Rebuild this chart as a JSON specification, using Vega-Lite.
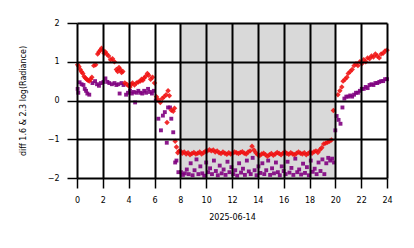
{
  "$schema": "https://vega.github.io/schema/vega-lite/v6.json",
  "width": 310,
  "height": 155,
  "autosize": "none",
  "padding": {"left": 77, "top": 23, "right": 27, "bottom": 70},
  "background": "white",
  "config": {
    "view": {"stroke": null},
    "font": "DejaVu Sans",
    "axis": {
      "labelFont": "DejaVu Sans", "titleFont": "DejaVu Sans",
      "labelFontSize": 8, "titleFontSize": 8, "titleFontWeight": "normal",
      "labelColor": "black", "titleColor": "black",
      "grid": true, "gridColor": "black", "gridWidth": 2, "gridOpacity": 1,
      "domain": false, "tickColor": "black", "tickWidth": 1.5, "tickSize": 10,
      "labelOverlap": false, "labelFlush": false
    }
  },
  "datasets": {
    "band": [{"t": 8, "b": 20}],
    "red": [
      {"t":0.05,"v":0.92},{"t":0.15,"v":0.88},{"t":0.25,"v":0.8},{"t":0.35,"v":0.74},{"t":0.45,"v":0.7},{"t":0.55,"v":0.62},{"t":0.65,"v":0.58},{"t":0.75,"v":0.55},{"t":0.85,"v":0.52},{"t":0.95,"v":0.5},{"t":1.05,"v":0.55},{"t":1.15,"v":0.6},{"t":1.3,"v":0.9},{"t":1.45,"v":0.92},{"t":1.6,"v":1.2},{"t":1.7,"v":1.25},{"t":1.8,"v":1.3},{"t":1.9,"v":1.35},{"t":2.0,"v":1.3},{"t":2.1,"v":1.22},{"t":2.2,"v":1.25},{"t":2.3,"v":1.2},{"t":2.45,"v":1.15},{"t":2.6,"v":1.05},{"t":2.75,"v":1.08},{"t":2.9,"v":1.0},{"t":3.05,"v":0.8},{"t":3.15,"v":0.75},{"t":3.25,"v":0.85},{"t":3.35,"v":0.8},{"t":3.45,"v":0.72},{"t":3.55,"v":0.75},{"t":3.7,"v":0.45},{"t":3.85,"v":0.42},{"t":4.0,"v":0.38},{"t":4.1,"v":0.35},{"t":4.2,"v":0.42},{"t":4.3,"v":0.45},{"t":4.45,"v":0.4},{"t":4.6,"v":0.45},{"t":4.75,"v":0.48},{"t":4.9,"v":0.5},{"t":5.0,"v":0.55},{"t":5.1,"v":0.52},{"t":5.2,"v":0.58},{"t":5.3,"v":0.62},{"t":5.45,"v":0.7},{"t":5.55,"v":0.65},{"t":5.7,"v":0.55},{"t":5.85,"v":0.6},{"t":6.0,"v":0.45},{"t":6.15,"v":0.1},{"t":6.3,"v":0.02},{"t":6.45,"v":-0.05},{"t":6.6,"v":0.05},{"t":6.75,"v":0.1},{"t":6.9,"v":0.15},{"t":6.97,"v":-0.57},{"t":7.05,"v":0.25},{"t":7.15,"v":0.12},{"t":7.3,"v":-0.25},{"t":7.45,"v":-0.28},{"t":7.55,"v":-0.2},{"t":7.6,"v":-1.05},{"t":7.7,"v":-1.2},{"t":7.8,"v":-1.35},{"t":7.9,"v":-1.3},
      {"t":8.0,"v":-1.3},{"t":8.15,"v":-1.36},{"t":8.3,"v":-1.33},{"t":8.45,"v":-1.38},{"t":8.6,"v":-1.35},{"t":8.75,"v":-1.4},{"t":8.9,"v":-1.37},{"t":9.05,"v":-1.34},{"t":9.2,"v":-1.38},{"t":9.35,"v":-1.36},{"t":9.5,"v":-1.33},{"t":9.65,"v":-1.38},{"t":9.8,"v":-1.35},{"t":9.95,"v":-1.31},{"t":10.1,"v":-1.3},{"t":10.25,"v":-1.27},{"t":10.4,"v":-1.3},{"t":10.55,"v":-1.28},{"t":10.7,"v":-1.33},{"t":10.85,"v":-1.3},{"t":11.0,"v":-1.35},{"t":11.15,"v":-1.37},{"t":11.3,"v":-1.33},{"t":11.45,"v":-1.36},{"t":11.6,"v":-1.39},{"t":11.75,"v":-1.35},{"t":11.9,"v":-1.38},{"t":12.05,"v":-1.36},{"t":12.2,"v":-1.33},{"t":12.35,"v":-1.35},{"t":12.5,"v":-1.37},{"t":12.65,"v":-1.34},{"t":12.8,"v":-1.32},{"t":12.95,"v":-1.36},{"t":13.1,"v":-1.38},{"t":13.25,"v":-1.33},{"t":13.4,"v":-1.3},{"t":13.55,"v":-1.18},{"t":13.7,"v":-1.28},{"t":13.85,"v":-1.35},{"t":14.0,"v":-1.4},{"t":14.15,"v":-1.42},{"t":14.3,"v":-1.38},{"t":14.45,"v":-1.36},{"t":14.6,"v":-1.4},{"t":14.75,"v":-1.44},{"t":14.9,"v":-1.4},{"t":15.05,"v":-1.37},{"t":15.2,"v":-1.41},{"t":15.35,"v":-1.38},{"t":15.5,"v":-1.34},{"t":15.65,"v":-1.37},{"t":15.8,"v":-1.4},{"t":15.95,"v":-1.36},{"t":16.1,"v":-1.33},{"t":16.25,"v":-1.37},{"t":16.4,"v":-1.39},{"t":16.55,"v":-1.35},{"t":16.7,"v":-1.38},{"t":16.85,"v":-1.4},{"t":17.0,"v":-1.36},{"t":17.15,"v":-1.33},{"t":17.3,"v":-1.36},{"t":17.45,"v":-1.38},{"t":17.6,"v":-1.35},{"t":17.75,"v":-1.4},{"t":17.9,"v":-1.37},{"t":18.05,"v":-1.33},{"t":18.2,"v":-1.36},{"t":18.35,"v":-1.32},{"t":18.5,"v":-1.3},{"t":18.65,"v":-1.34},{"t":18.8,"v":-1.27},{"t":18.95,"v":-1.22},{"t":19.1,"v":-1.12},{"t":19.25,"v":-1.1},{"t":19.4,"v":-1.08},{"t":19.55,"v":-1.05},{"t":19.7,"v":-1.02},{"t":19.85,"v":-0.26},
      {"t":20.2,"v":0.15},{"t":20.35,"v":0.25},{"t":20.5,"v":0.35},{"t":20.6,"v":0.5},{"t":20.75,"v":0.55},{"t":20.9,"v":0.6},{"t":21.0,"v":0.7},{"t":21.15,"v":0.75},{"t":21.3,"v":0.8},{"t":21.45,"v":0.9},{"t":21.6,"v":0.95},{"t":21.75,"v":0.9},{"t":21.9,"v":1.0},{"t":22.05,"v":0.95},{"t":22.2,"v":1.05},{"t":22.35,"v":1.0},{"t":22.5,"v":1.1},{"t":22.65,"v":1.08},{"t":22.8,"v":1.15},{"t":22.95,"v":1.12},{"t":23.1,"v":1.2},{"t":23.25,"v":1.15},{"t":23.4,"v":1.1},{"t":23.55,"v":1.2},{"t":23.7,"v":1.22},{"t":23.85,"v":1.28},{"t":24.0,"v":1.3}
    ],
    "pur": [
      {"t":0.05,"v":0.3},{"t":0.1,"v":0.2},{"t":0.2,"v":0.47},{"t":0.35,"v":0.42},{"t":0.5,"v":0.4},{"t":0.6,"v":0.3},{"t":0.7,"v":0.25},{"t":0.8,"v":0.18},{"t":0.95,"v":0.15},{"t":1.2,"v":0.45},{"t":1.4,"v":0.5},{"t":1.55,"v":0.42},{"t":1.7,"v":0.38},{"t":1.85,"v":0.45},{"t":2.05,"v":0.48},{"t":2.2,"v":0.57},{"t":2.35,"v":0.48},{"t":2.5,"v":0.45},{"t":2.7,"v":0.42},{"t":2.9,"v":0.45},{"t":3.05,"v":0.4},{"t":3.2,"v":0.42},{"t":3.3,"v":0.18},{"t":3.45,"v":0.45},{"t":3.6,"v":0.4},{"t":3.8,"v":0.15},{"t":3.95,"v":0.2},{"t":4.1,"v":0.25},{"t":4.25,"v":0.18},{"t":4.4,"v":0.22},{"t":4.5,"v":-0.05},{"t":4.6,"v":0.2},{"t":4.75,"v":0.25},{"t":4.9,"v":0.2},{"t":5.05,"v":0.18},{"t":5.2,"v":0.25},{"t":5.35,"v":0.2},{"t":5.5,"v":0.3},{"t":5.65,"v":0.22},{"t":5.8,"v":0.18},{"t":5.95,"v":0.25},{"t":6.1,"v":0.0},{"t":6.3,"v":-0.47},{"t":6.5,"v":-0.77},{"t":6.65,"v":-0.39},{"t":6.8,"v":-0.3},{"t":6.95,"v":-1.09},{"t":7.05,"v":-0.18},{"t":7.2,"v":-0.18},{"t":7.3,"v":-0.47},{"t":7.45,"v":-0.82},{"t":7.6,"v":-1.6},{"t":7.7,"v":-1.55},{"t":7.85,"v":-1.85},
      {"t":8.05,"v":-1.85},{"t":8.2,"v":-1.92},{"t":8.35,"v":-1.88},{"t":8.5,"v":-1.78},{"t":8.65,"v":-1.9},{"t":8.8,"v":-1.62},{"t":8.95,"v":-1.93},{"t":9.1,"v":-1.8},{"t":9.25,"v":-1.52},{"t":9.4,"v":-1.9},{"t":9.55,"v":-1.7},{"t":9.7,"v":-1.88},{"t":9.85,"v":-1.94},{"t":10.0,"v":-1.6},{"t":10.15,"v":-1.85},{"t":10.3,"v":-1.75},{"t":10.45,"v":-1.9},{"t":10.6,"v":-1.55},{"t":10.75,"v":-1.82},{"t":10.9,"v":-1.93},{"t":11.05,"v":-1.68},{"t":11.2,"v":-1.88},{"t":11.35,"v":-1.78},{"t":11.5,"v":-1.92},{"t":11.65,"v":-1.58},{"t":11.8,"v":-1.85},{"t":11.95,"v":-1.72},{"t":12.1,"v":-1.9},{"t":12.25,"v":-1.8},{"t":12.4,"v":-1.94},{"t":12.55,"v":-1.62},{"t":12.7,"v":-1.86},{"t":12.85,"v":-1.76},{"t":13.0,"v":-1.92},{"t":13.15,"v":-1.55},{"t":13.3,"v":-1.83},{"t":13.45,"v":-1.9},{"t":13.6,"v":-1.48},{"t":13.75,"v":-1.8},{"t":13.9,"v":-1.93},{"t":14.05,"v":-1.7},{"t":14.2,"v":-1.87},{"t":14.35,"v":-1.62},{"t":14.5,"v":-1.9},{"t":14.65,"v":-1.8},{"t":14.8,"v":-1.55},{"t":14.95,"v":-1.92},{"t":15.1,"v":-1.75},{"t":15.25,"v":-1.88},{"t":15.4,"v":-1.6},{"t":15.55,"v":-1.85},{"t":15.7,"v":-1.93},{"t":15.85,"v":-1.7},{"t":16.0,"v":-1.82},{"t":16.15,"v":-1.9},{"t":16.3,"v":-1.58},{"t":16.45,"v":-1.86},{"t":16.6,"v":-1.74},{"t":16.75,"v":-1.92},{"t":16.9,"v":-1.5},{"t":17.05,"v":-1.85},{"t":17.2,"v":-1.78},{"t":17.35,"v":-1.91},{"t":17.5,"v":-1.63},{"t":17.65,"v":-1.87},{"t":17.8,"v":-1.72},{"t":17.95,"v":-1.93},{"t":18.1,"v":-1.55},{"t":18.25,"v":-1.84},{"t":18.4,"v":-1.76},{"t":18.55,"v":-1.9},{"t":18.7,"v":-1.6},{"t":18.85,"v":-1.82},{"t":19.0,"v":-1.52},{"t":19.15,"v":-1.9},{"t":19.3,"v":-1.62},{"t":19.45,"v":-1.48},{"t":19.6,"v":-1.55},{"t":19.75,"v":-1.5},{"t":19.9,"v":-1.6},
      {"t":20.0,"v":-0.77},{"t":20.1,"v":-0.4},{"t":20.25,"v":-0.5},{"t":20.4,"v":-0.6},{"t":20.55,"v":-0.18},{"t":20.7,"v":0.05},{"t":20.85,"v":0.1},{"t":21.0,"v":0.1},{"t":21.15,"v":0.13},{"t":21.3,"v":0.1},{"t":21.45,"v":0.15},{"t":21.6,"v":0.2},{"t":21.75,"v":0.2},{"t":21.9,"v":0.25},{"t":22.05,"v":0.3},{"t":22.2,"v":0.3},{"t":22.35,"v":0.35},{"t":22.5,"v":0.32},{"t":22.65,"v":0.4},{"t":22.8,"v":0.42},{"t":22.95,"v":0.4},{"t":23.1,"v":0.45},{"t":23.25,"v":0.45},{"t":23.4,"v":0.48},{"t":23.55,"v":0.5},{"t":23.7,"v":0.5},{"t":23.85,"v":0.55},{"t":24.0,"v":0.55}
    ]
  },
  "encoding": {
    "x": {"field": "t", "type": "quantitative",
      "scale": {"domain": [0, 24], "nice": false, "zero": false},
      "axis": {"values": [0,2,4,6,8,10,12,14,16,18,20,22,24], "title": "2025-06-14", "labelPadding": 8, "titlePadding": 9, "zindex": 1}},
    "y": {"field": "v", "type": "quantitative",
      "scale": {"domain": [-2, 2], "nice": false},
      "axis": {"values": [-2,-1,0,1,2], "title": "diff 1.6 & 2.3  log(Radiance)", "labelPadding": 8, "titlePadding": 20, "zindex": 1}}
  },
  "layer": [
    {
      "data": {"name": "band"},
      "mark": {"type": "rect", "color": "#d9d9d9"},
      "encoding": {
        "x2": {"field": "b"},
        "y": null
      }
    },
    {
      "data": {"name": "pur"},
      "mark": {"type": "point", "shape": "square", "filled": true, "color": "#800080", "size": 15, "opacity": 0.9}
    },
    {
      "data": {"name": "red"},
      "mark": {"type": "point", "shape": "diamond", "filled": true, "color": "#f01010", "size": 30, "opacity": 0.88}
    }
  ]
}
